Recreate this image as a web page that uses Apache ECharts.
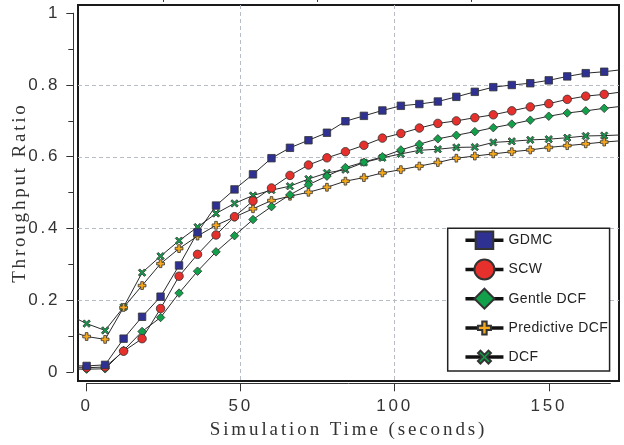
<!DOCTYPE html>
<html><head><meta charset="utf-8">
<script src="https://cdn.jsdelivr.net/npm/echarts@6/dist/echarts.min.js"></script>
<style>html,body{margin:0;padding:0;background:#fff}#c{width:624px;height:445px}</style>
</head><body><div id="c"></div>
<script>
// ---- data ----
const time = [-6,0,6,12,18,24,30,36,42,48,54,60,66,72,78,84,90,96,102,108,114,120,126,132,138,144,150,156,162,168,174];
const gdmc = [0.017,0.017,0.020,0.093,0.154,0.210,0.297,0.389,0.464,0.509,0.551,0.596,0.625,0.646,0.667,0.699,0.714,0.729,0.742,0.747,0.754,0.767,0.781,0.794,0.800,0.805,0.813,0.824,0.833,0.837,0.843];
const scw = [0.012,0.012,0.014,0.058,0.093,0.177,0.267,0.328,0.382,0.433,0.477,0.513,0.548,0.577,0.597,0.614,0.632,0.652,0.665,0.680,0.693,0.700,0.709,0.717,0.728,0.739,0.748,0.760,0.769,0.774,0.781];
const gentleDcf = [0.008,0.008,0.009,0.060,0.113,0.152,0.220,0.281,0.335,0.380,0.425,0.461,0.494,0.522,0.546,0.570,0.585,0.600,0.619,0.635,0.650,0.660,0.670,0.681,0.691,0.702,0.713,0.722,0.728,0.735,0.741];
const predictiveDcf = [0.116,0.099,0.091,0.180,0.241,0.302,0.344,0.379,0.409,0.432,0.455,0.478,0.490,0.501,0.515,0.532,0.542,0.555,0.564,0.574,0.584,0.596,0.602,0.608,0.614,0.619,0.626,0.631,0.636,0.641,0.645];
const dcf = [0.160,0.135,0.116,0.181,0.277,0.323,0.366,0.404,0.442,0.470,0.492,0.507,0.518,0.538,0.555,0.564,0.584,0.597,0.608,0.618,0.621,0.626,0.627,0.640,0.643,0.647,0.649,0.653,0.658,0.659,0.661];
const seriesNames = ['GDMC','SCW','Gentle DCF','Predictive DCF','DCF'];
const xTicks = [0,50,100,150];
const xMinorTicks = [25,75,125];
const yTicks = [0,0.2,0.4,0.6,0.8,1];
const xName = 'Simulation Time (seconds)';
const yName = 'Throughput Ratio';

// ---- letter spacing for some texts (canvas letterSpacing) ----
const spacing = {};
spacing[xName] = '2.9px';
spacing[yName] = '2.8px';
seriesNames.forEach(n => spacing[n] = '0.4px');
const proto = CanvasRenderingContext2D.prototype;
const origFill = proto.fillText;
proto.fillText = function (t, x, y, m) {
  const ls = spacing[t];
  if (ls && ('letterSpacing' in this)) {
    const prev = this.letterSpacing;
    this.letterSpacing = ls;
    origFill.call(this, t, x, y);
    this.letterSpacing = prev;
    return;
  }
  return m === undefined ? origFill.call(this, t, x, y) : origFill.call(this, t, x, y, m);
};

// ---- symbols (padded paths so the legend icons match) ----
const SQUARE = 'path://M0,0M20,20M1.2,1.2H18.8V18.8H1.2Z';
const PLUS = 'path://M0,0M20,20M7.8,3.5H12.2V7.8H16.5V12.2H12.2V16.5H7.8V12.2H3.5V7.8H7.8Z';
const CROSS = 'path://M0,0M20,20M3.5,6L6,3.5L10,7.5L14,3.5L16.5,6L12.5,10L16.5,14L14,16.5L10,12.5L6,16.5L3.5,14L7.5,10Z';

function pairs(ys) { return time.map((t, i) => [t, ys[i]]); }
function mk(name, ys, symbol, size, fill) {
  return {
    name, type: 'line', xAxisIndex: 0, yAxisIndex: 0, data: pairs(ys),
    symbol, symbolSize: size, showAllSymbol: true, clip: true,
    lineStyle: { color: '#2a2a2a', width: 1 },
    itemStyle: { color: fill, borderColor: '#333', borderWidth: 0.8, opacity: 1 },
    emphasis: { disabled: true }, silent: true
  };
}

const chart = echarts.init(document.getElementById('c'), null, { renderer: 'canvas' });
chart.setOption({
  animation: false,
  backgroundColor: '#fff',
  grid: [
    { left: 78, right: 5, top: 5, bottom: 64, show: true, borderColor: '#1a1a1a', borderWidth: 2, backgroundColor: 'transparent', outerBoundsMode: 'none', containLabel: false },
    { left: 86.6, right: 13.6, top: 13.2, bottom: 73, show: false, outerBoundsMode: 'none', containLabel: false }
  ],
  xAxis: [
    { gridIndex: 0, type: 'value', min: -2.8, max: 172.8, splitNumber: 4,
      axisLine: { show: false }, axisLabel: { show: false },
      axisTick: { show: false, customValues: xTicks },
      splitLine: { show: true, showMinLine: false, showMaxLine: false, lineStyle: { color: '#b8bcc4', type: [4, 3], width: 1 } } },
    { gridIndex: 1, type: 'value', min: 0, max: 170, interval: 50, offset: 11.3,
      axisLine: { show: true, onZero: false, lineStyle: { color: '#333', width: 1 } },
      axisTick: { show: true, length: 8, customValues: xTicks, lineStyle: { color: '#333' } },
      axisLabel: { show: true, customValues: xTicks, margin: 15, fontSize: 17, color: '#333', fontFamily: 'Liberation Sans' },
      splitLine: { show: false },
      name: xName, nameLocation: 'middle', nameGap: 37, nameMoveOverlap: false,
      nameTextStyle: { fontFamily: 'Liberation Serif', fontSize: 19, color: '#333' } },
    { gridIndex: 1, type: 'value', min: 0, max: 170, interval: 50, offset: 11.3,
      axisLine: { show: false, onZero: false },
      axisTick: { show: true, length: 5, customValues: xMinorTicks, lineStyle: { color: '#333' } },
      axisLabel: { show: false }, splitLine: { show: false } }
  ],
  yAxis: [
    { gridIndex: 0, type: 'value', min: -0.025, max: 1.023, splitNumber: 5,
      axisLine: { show: false }, axisLabel: { show: false },
      axisTick: { show: false, customValues: yTicks },
      splitLine: { show: true, showMinLine: false, showMaxLine: false, lineStyle: { color: '#b8bcc4', type: [4, 3], width: 1 } } },
    { gridIndex: 1, type: 'value', min: 0, max: 1, interval: 0.2, offset: 13.3,
      axisLine: { show: true, onZero: false, lineStyle: { color: '#333', width: 1 } },
      axisTick: { show: true, length: 7, lineStyle: { color: '#333' } },
      minorTick: { show: true, splitNumber: 2, length: 5, lineStyle: { color: '#333' } },
      axisLabel: { show: true, margin: 13, fontSize: 17, color: '#333', fontFamily: 'Liberation Sans' },
      splitLine: { show: false }, minorSplitLine: { show: false },
      name: yName, nameLocation: 'middle', nameGap: 44, nameRotate: 90, nameMoveOverlap: false,
      nameTextStyle: { fontFamily: 'Liberation Serif', fontSize: 19, color: '#333' } }
  ],
  legend: {
    data: seriesNames, orient: 'vertical', left: 447.7, top: 228.3,
    padding: [1, 7, 3, 16], itemGap: 7.2, itemWidth: 38, itemHeight: 25,
    backgroundColor: '#fff', borderColor: '#222', borderWidth: 1.5, borderRadius: 0,
    selectedMode: false,
    lineStyle: { width: 3.5, color: '#111' },
    textStyle: { fontSize: 14, color: '#222', fontFamily: 'Liberation Sans' }
  },
  series: [
    mk('DCF', dcf, CROSS, 11.5, '#16984a'),
    mk('Predictive DCF', predictiveDcf, PLUS, 12, '#f6a81c'),
    mk('Gentle DCF', gentleDcf, 'diamond', 8.5, '#12a04a'),
    mk('SCW', scw, 'circle', 8.5, '#e5302c'),
    mk('GDMC', gdmc, SQUARE, 8.5, '#2e3192')
  ]
});
</script></body></html>
